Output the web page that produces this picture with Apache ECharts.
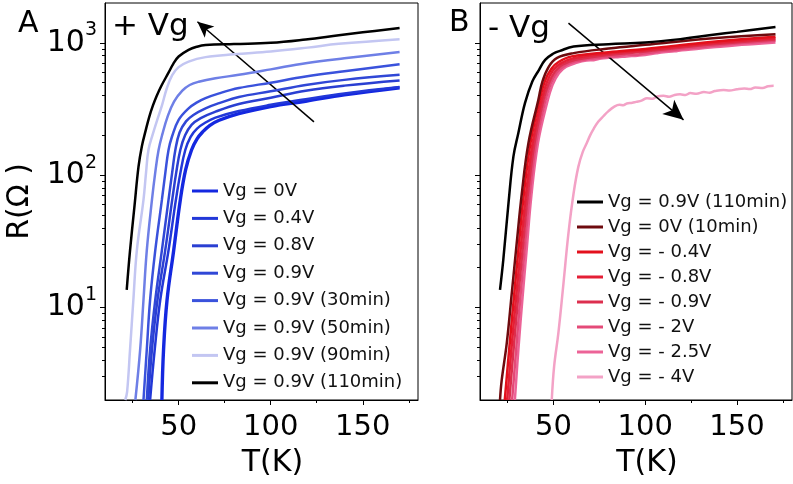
<!DOCTYPE html>
<html>
<head>
<meta charset="utf-8">
<script src="https://cdn.jsdelivr.net/npm/echarts@6/dist/echarts.min.js"></script>
<style>html,body{margin:0;padding:0;background:#fff;}#c{width:793px;height:484px;}</style>
</head>
<body>
<div id="c"></div>
<script>
// ---------- data (T in K, R in Ohm) ----------
const xMajorTicks = [50, 100, 150];
const xMinorTicks = [25, 75, 125, 175];
const yMajorTicks = [10, 100, 1000];
const yMinorTicks = [3,4,5,6,7,8,9,20,30,40,50,60,70,80,90,200,300,400,500,600,700,800,900];

const namesA = ['Vg = 0V','Vg = 0.4V','Vg = 0.8V','Vg = 0.9V','Vg = 0.9V (30min)','Vg = 0.9V (50min)','Vg = 0.9V (90min)','Vg = 0.9V (110min)'];
const colorsA = ['#1428e0','#2238d8','#2a3fd2','#3047d6','#3a52dc','#6e7fe6','#c3c6f2','#000000'];
const widthsA = [3.4,2.5,2.5,2.5,2.5,2.5,2.5,2.5];

const a0V  = [[40.9,2],[41.8,4.8],[43.7,11.4],[47.3,27],[50.9,65],[53.8,110],[57,155],[60,188],[63,212],[67,238],[72,260],[82.7,292],[100,330],[119,362],[140,405],[170,458]];
const a04V = [[34.5,2],[37,4.8],[40,11.4],[44.5,27],[48.5,65],[51,105],[53.6,155],[56.5,195],[60,225],[64.6,250],[70,272],[82.7,305],[100,340],[119,375],[140,415],[170,464]];
const a08V = [[33.5,2],[35.5,4.8],[38.5,11.4],[42.7,27],[46.5,65],[48.7,105],[50.9,155],[53.5,200],[57,240],[62,270],[70,302],[82.7,345],[100,385],[119,435],[140,475],[170,520]];
const a09V = [[32.7,2],[34.5,4.8],[37.3,11.4],[40.9,27],[44.5,65],[46.5,105],[48.2,155],[50.5,210],[54,255],[58,285],[64.6,320],[72,350],[82.7,390],[100,430],[119,481],[140,525],[170,573]];
const a30m = [[30.9,2],[32.7,4.8],[34.5,11.4],[37.3,27],[40.9,65],[42.8,105],[44.5,155],[46.4,196],[50,262],[55.4,320],[60,355],[64.6,382],[72,415],[82.7,455],[100,500],[119,556],[140,610],[170,690]];
const a50m = [[26.5,2],[29.1,4.8],[30.9,11.4],[32.7,27],[35.5,65],[37.3,105],[39.1,155],[41.2,205],[44,277],[47.5,360],[52,435],[56,480],[60.9,508],[70,540],[82.7,573],[100,630],[119,702],[140,765],[170,851]];
const a90m = [[21,2],[22,2.3],[23.6,4.8],[25.4,11.4],[27.3,27],[30.9,65],[32.3,105],[33.6,155],[36,205],[38.5,265],[40.9,335],[43.5,450],[46.5,570],[50,655],[55.4,722],[64.6,780],[80,820],[100,860],[120,920],[137,983],[170,1066]];
const a110m = [[21.8,13.6],[23.6,27],[26,58],[28.2,116],[30,165],[32,215],[34,275],[36,335],[38,395],[40.5,470],[44.5,595],[47,690],[50,788],[55.4,885],[60,935],[64.6,962],[80,980],[100,1000],[119,1060],[137,1140],[150,1200],[170,1292]];

const namesB = ['Vg = 0.9V (110min)','Vg = 0V (10min)','Vg = - 0.4V','Vg = - 0.8V','Vg = - 0.9V','Vg = - 2V','Vg = - 2.5V','Vg = - 4V'];
const colorsB = ['#000000','#6e0a0e','#e3101c','#e41f36','#dc2f4e','#e44a78','#ec6397','#f3a2c6'];

const b110m = [[20.9,13.6],[22.7,23],[25.5,61],[28.2,138],[30.9,208],[34.5,350],[38.5,510],[42,620],[45.5,744],[50,830],[53.6,870],[61,937],[80,975],[100,1005],[120,1070],[137,1150],[150,1210],[171,1315]];
const b0V10 = [[20.9,2],[21.8,2.8],[24.6,5.4],[27.3,12.8],[30,30.6],[32.8,73],[36.4,175],[41.8,371],[44,510],[47.5,662],[51.8,767],[61,836],[80,905],[100,966],[137,1085],[171,1163]];
const bm04 = [[23.5,2],[26,5],[28.5,12],[31,28],[33.8,70],[37.5,175],[42.5,370],[45.5,520],[49,640],[53,720],[60,790],[80,850],[100,900],[137,1020],[171,1110]];
const bm08 = [[24.8,2],[27.2,5],[29.7,12],[32.2,28],[35,70],[38.7,175],[43.6,370],[46.6,510],[50,625],[54,700],[61,765],[80,830],[100,880],[137,995],[171,1085]];
const bm09 = [[26,2],[28.4,5],[30.8,12],[33.3,28],[36,70],[39.7,175],[44.6,370],[47.6,500],[51,610],[55,685],[62,745],[80,810],[100,860],[137,975],[171,1060]];
const bm2  = [[27.5,2],[29.8,5],[32,12],[34.4,28],[37,70],[40.6,175],[45.5,360],[48.5,490],[52,600],[56,670],[62,725],[66,742],[70,760],[75,770],[80,790],[85,795],[90,815],[95,812],[100,835],[105,850],[110,870],[115,878],[120,900],[128,920],[137,950],[150,990],[160,1010],[171,1035]];
const bm25 = [[29,2],[31,5],[33.2,12],[35.5,28],[38,70],[41.6,175],[46.5,350],[49.5,480],[53,590],[57,660],[63,710],[68,735],[72,740],[76,760],[80,770],[86,782],[90,790],[96,800],[100,810],[106,835],[110,850],[116,862],[120,880],[128,900],[137,925],[150,960],[160,980],[171,1005]];
const bm4  = [[49.1,2],[50.4,3.6],[52.7,6.4],[55.5,15.3],[58.2,36.5],[61,73],[63.6,116],[66,150],[68.2,175],[70,200],[72,225],[74.5,254],[77.3,280],[80,305],[83,328],[86,340],[88,338],[90,348],[93,352],[95,358],[98,366],[101,382],[104,378],[106.4,393],[110,398],[113,391],[116,404],[119,408],[122,404],[124.6,417],[128,412],[132,425],[135,420],[138,432],[142.7,441],[146,436],[150,446],[154,452],[157,447],[160,460],[164,456],[167,470],[170,473]];

const seriesA = [a0V, a04V, a08V, a09V, a30m, a50m, a90m, a110m];
const seriesB = [b110m, b0V10, bm04, bm08, bm09, bm2, bm25, bm4];

// arrow annotations [tail, head] in data coords
const arrowA = [[123.5, 253], [60.2, 1443]];
const arrowB = [[58.2, 1409], [120.9, 262]];

// ---------- chart ----------
const FONT = 'DejaVu Sans';
const chart = echarts.init(document.getElementById('c'), null, {renderer: 'canvas', width: 793, height: 484});

function supLabel(v) {
  const e = Math.round(Math.log10(v));
  return '{b|10}{s|' + e + '}';
}

function xAxes(grid) {
  return [
    {
      type: 'value', gridIndex: grid, min: 10, max: 180, position: 'bottom',
      axisLine: {show: true, lineStyle: {color: '#000', width: 1}},
      axisTick: {show: true, length: 5, customValues: xMajorTicks, lineStyle: {color: '#000', width: 1}},
      axisLabel: {show: true, customValues: xMajorTicks, margin: 13, color: '#000', fontFamily: FONT, fontSize: 29},
      splitLine: {show: false},
      name: 'T(K)', nameLocation: 'middle', nameGap: 48,
      nameTextStyle: {color: '#000', fontFamily: FONT, fontSize: 30, padding: [0, 0, 0, 22]}
    },
    {
      type: 'value', gridIndex: grid, min: 10, max: 180, position: 'bottom', offset: 0,
      axisLine: {show: false},
      axisTick: {show: true, length: 3, customValues: xMinorTicks, lineStyle: {color: '#000', width: 1}},
      axisLabel: {show: false},
      splitLine: {show: false}
    }
  ];
}

function yAxes(grid, withLabels) {
  const main = {
    type: 'log', logBase: 10, gridIndex: grid, min: 2, max: 2000, position: 'left',
    axisLine: {show: true, lineStyle: {color: '#000', width: 1}},
    axisTick: {show: true, length: 5, customValues: yMajorTicks, lineStyle: {color: '#000', width: 1}},
    axisLabel: withLabels ? {
      show: true, customValues: yMajorTicks, margin: 8, formatter: supLabel,
      rich: {
        b: {fontFamily: FONT, fontSize: 30, color: '#000', lineHeight: 44},
        s: {fontFamily: FONT, fontSize: 19, color: '#000', verticalAlign: 'top', lineHeight: 20}
      }
    } : {show: false},
    splitLine: {show: false}
  };
  if (withLabels) {
    main.name = 'R(Ω )';
    main.nameLocation = 'middle';
    main.nameGap = 70;
    main.nameTextStyle = {color: '#000', fontFamily: FONT, fontSize: 30};
  }
  const minor = {
    type: 'log', logBase: 10, gridIndex: grid, min: 2, max: 2000, position: 'left', offset: 0,
    axisLine: {show: false},
    axisTick: {show: true, length: 3, customValues: yMinorTicks, lineStyle: {color: '#000', width: 1}},
    axisLabel: {show: false},
    splitLine: {show: false}
  };
  return [main, minor];
}

function arrowMark(arrow, size) {
  return {
    silent: true, symbol: ['none', 'arrow'], symbolSize: size, animation: false,
    lineStyle: {color: '#000', width: 1.5, type: 'solid'},
    label: {show: false},
    emphasis: {disabled: true},
    data: [[{coord: arrow[0]}, {coord: arrow[1]}]]
  };
}

const series = [];
seriesA.forEach((d, i) => {
  const s = {
    name: namesA[i], type: 'line', xAxisIndex: 0, yAxisIndex: 0, data: d,
    symbol: 'none', smooth: 0.4,
    lineStyle: {color: colorsA[i], width: widthsA[i]}, itemStyle: {color: colorsA[i]},
    z: 2 + i
  };
  if (i === 7) s.markLine = arrowMark(arrowA, [11, 16]);
  series.push(s);
});
seriesB.forEach((d, i) => {
  const s = {
    name: namesB[i], type: 'line', xAxisIndex: 2, yAxisIndex: 2, data: d,
    symbol: 'none', smooth: 0.4,
    lineStyle: {color: colorsB[i], width: 2.5}, itemStyle: {color: colorsB[i]},
    z: 2 + (8 - i)
  };
  if (i === 0) s.markLine = arrowMark(arrowB, [14, 20]);
  series.push(s);
});

const legendBase = {
  orient: 'vertical', itemWidth: 26, itemHeight: 3, selectedMode: false,
  icon: 'rect', padding: 0,
  textStyle: {color: '#111', fontFamily: FONT, fontSize: 18, lineHeight: 20}
};

chart.setOption({
  animation: false,
  backgroundColor: '#fff',
  title: [
    {text: 'A', left: 18, top: 9, padding: 0, textStyle: {fontFamily: FONT, fontSize: 30, fontWeight: 'normal', color: '#000'}},
    {text: '+ Vg', left: 112, top: 11, padding: 0, textStyle: {fontFamily: FONT, fontSize: 31, fontWeight: 'normal', color: '#000'}},
    {text: 'B', left: 449, top: 8, padding: 0, textStyle: {fontFamily: FONT, fontSize: 30, fontWeight: 'normal', color: '#000'}},
    {text: '- Vg', left: 488, top: 13, padding: 0, textStyle: {fontFamily: FONT, fontSize: 31, fontWeight: 'normal', color: '#000'}}
  ],
  grid: [
    {left: 105, top: 3, width: 313, height: 397, show: true, borderColor: '#000', borderWidth: 1, containLabel: false},
    {left: 480, top: 3, width: 312, height: 397, show: true, borderColor: '#000', borderWidth: 1, containLabel: false}
  ],
  xAxis: [...xAxes(0), ...xAxes(1)],
  yAxis: [...yAxes(0, true), ...yAxes(1, false)],
  legend: [
    Object.assign({}, legendBase, {data: namesA, left: 192, top: 181, itemGap: 7.4}),
    Object.assign({}, legendBase, {data: namesB, left: 577, top: 192, itemGap: 5})
  ],
  series: series
});
</script>
</body>
</html>
